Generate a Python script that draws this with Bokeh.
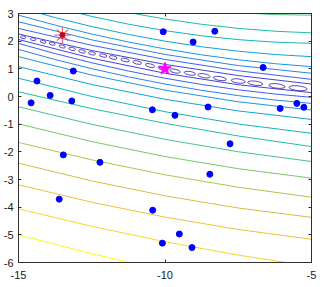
import numpy as np
from bokeh.plotting import figure
from bokeh.models import LinearAxis, FixedTicker, Range1d, ColumnDataSource
from bokeh.embed import file_html
from bokeh.resources import INLINE

# contour lines: y value at x = -15, -10, -5
line_x = [-15.0, -10.0, -5.0]
below_left = [2.06, 1.92, 1.70, 1.44, 1.08, 0.66, 0.17, -0.37, -0.99, -1.66, -2.41, -3.19, -4.06, -5.00]
below_mid = [0.84, 0.66, 0.45, 0.23, -0.10, -0.55, -0.97, -1.55, -2.17, -2.83, -3.59, -4.36, -5.25, -6.30]
below_right = [0.14, -0.03, -0.25, -0.49, -0.83, -1.33, -1.81, -2.35, -2.95, -3.64, -4.37, -5.16, -6.14, -7.35]
above_left = [2.26, 2.46, 2.70, 2.94, 3.22, 3.60, 4.00, 4.40]
above_mid = [1.16, 1.34, 1.52, 1.72, 2.00, 2.38, 2.80, 3.30]
above_right = [0.45, 0.62, 0.84, 1.08, 1.44, 1.92, 2.30, 2.94]
n_levels = 15

# small closed contours along the valley floor
valley_x = [-14.84, -14.50, -14.16, -13.85, -13.51, -13.17, -12.83, -12.49, -12.11, -11.77, -11.36,
            -10.95, -10.51, -10.07, -9.66, -9.15, -8.67, -8.13, -7.50, -6.92, -6.18, -5.46]
valley_y = [2.14, 2.07, 1.98, 1.91, 1.81, 1.72, 1.63, 1.56, 1.48, 1.41, 1.32,
            1.23, 1.12, 1.02, 0.92, 0.84, 0.75, 0.65, 0.56, 0.48, 0.38, 0.30]
valley_w = [0.18, 0.19, 0.20, 0.21, 0.22, 0.23, 0.24, 0.25, 0.26, 0.27, 0.29,
            0.30, 0.32, 0.34, 0.36, 0.39, 0.42, 0.45, 0.48, 0.52, 0.56, 0.62]
valley_h = [0.10, 0.10, 0.10, 0.10, 0.10, 0.11, 0.11, 0.11, 0.11, 0.12, 0.12,
            0.12, 0.12, 0.13, 0.13, 0.13, 0.14, 0.14, 0.15, 0.15, 0.16, 0.17]

# sample points
dot_x = [-10.06, -8.30, -9.04, -13.13, -14.37, -13.92, -14.57, -13.18, -10.43, -9.66, -8.53, -6.65,
         -6.07, -5.50, -5.26, -7.78, -13.47, -12.22, -8.47, -13.61, -10.42, -9.51, -10.09, -9.08]
dot_y = [2.34, 2.36, 1.97, 0.92, 0.56, 0.04, -0.23, -0.16, -0.48, -0.68, -0.38, 1.05,
         -0.43, -0.25, -0.39, -1.71, -2.11, -2.38, -2.81, -3.71, -4.11, -4.97, -5.30, -5.46]

start_x, start_y = [-13.5], [2.22]
best_x, best_y = [-10.0], [1.0]

x_ticks = [-15, -10, -5]
y_ticks = [-6, -5, -4, -3, -2, -1, 0, 1, 2, 3]

# parula-like colour map (11 anchors, t = 0 .. 1)
_anchors = [(62, 38, 168), (70, 78, 238), (45, 125, 240), (25, 152, 225), (8, 175, 208),
            (35, 188, 170), (95, 198, 120), (165, 198, 80), (222, 188, 62), (252, 196, 58),
            (249, 251, 14)]


def parula(t):
    t = min(max(t, 0.0), 1.0) * (len(_anchors) - 1)
    i = min(int(t), len(_anchors) - 2)
    f = t - i
    c = [round(_anchors[i][k] * (1 - f) + _anchors[i + 1][k] * f) for k in range(3)]
    return "#%02x%02x%02x" % tuple(c)


FW, FH = 293, 249
p = figure(frame_width=FW, frame_height=FH,
           x_range=Range1d(-15, -5), y_range=Range1d(-6, 3),
           output_backend="svg", toolbar_location=None,
           min_border_left=18, min_border_right=15, min_border_top=13, min_border_bottom=24)
p.xgrid.visible = False
p.ygrid.visible = False
p.background_fill_color = "white"
p.border_fill_color = "white"
p.outline_line_color = "#303030"
p.outline_line_width = 1


def line_source(left, mid, right):
    left = np.array(left)
    mid = np.array(mid)
    right = np.array(right)
    n = len(left)
    return dict(
        x0=[line_x[0]] * n, y0=left,
        x1=[line_x[2]] * n, y1=right,
        cx=[line_x[1]] * n, cy=2 * mid - (left + right) / 2,
        color=[parula((k + 1) / (n_levels - 1)) for k in range(n)],
    )


for src in (line_source(below_left, below_mid, below_right),
            line_source(above_left, above_mid, above_right)):
    p.quadratic(x0="x0", y0="y0", x1="x1", y1="y1", cx="cx", cy="cy",
                line_color="color", line_width=1, source=ColumnDataSource(src))

# valley ellipses, oriented along the valley
vx = np.array(valley_x)
vy = np.array(valley_y)
slope = np.gradient(vy, vx) * (FH / 9) / (FW / 10)
angles = np.arctan(slope)
p.ellipse(x=valley_x, y=valley_y, width=valley_w, height=valley_h, angle=angles,
          fill_color=None, line_color=parula(0.0), line_width=1, line_alpha=0.85)

p.scatter(dot_x, dot_y, size=6, marker="circle", fill_color="#0000ff", line_color="#0000ff")

p.scatter(start_x, start_y, size=16, marker="asterisk", line_color="#ff3030", line_width=1.2, line_alpha=0.75)
p.scatter(start_x, start_y, size=5, marker="circle", fill_color="#cc0022", line_color="#cc0022")
p.scatter(best_x, best_y, size=13, marker="star", fill_color="#ff00ff", line_color="#ff00ff")

font = "Liberation Sans"
axis_color = "#303030"


def style_axis(ax, ticks, labels):
    ax.ticker = FixedTicker(ticks=ticks)
    ax.axis_line_color = axis_color
    ax.major_tick_line_color = axis_color
    ax.major_tick_in = 3
    ax.major_tick_out = 0
    ax.minor_tick_line_color = None
    if labels:
        ax.major_label_overrides = {t: str(t) for t in ticks}
        ax.major_label_text_font = font
        ax.major_label_text_font_size = "11px"
        ax.major_label_text_color = "#202020"
        ax.major_label_standoff = 5
    else:
        ax.major_label_text_color = None
        ax.major_label_text_font_size = "0px"
        ax.major_label_standoff = 0


style_axis(p.xaxis[0], x_ticks, True)
style_axis(p.yaxis[0], y_ticks, True)
p.xaxis[0].major_label_standoff = 8
top = LinearAxis()
right = LinearAxis()
style_axis(top, x_ticks, False)
style_axis(right, y_ticks, False)
p.add_layout(top, "above")
p.add_layout(right, "right")

open("out.html", "w").write(file_html(p, INLINE))
